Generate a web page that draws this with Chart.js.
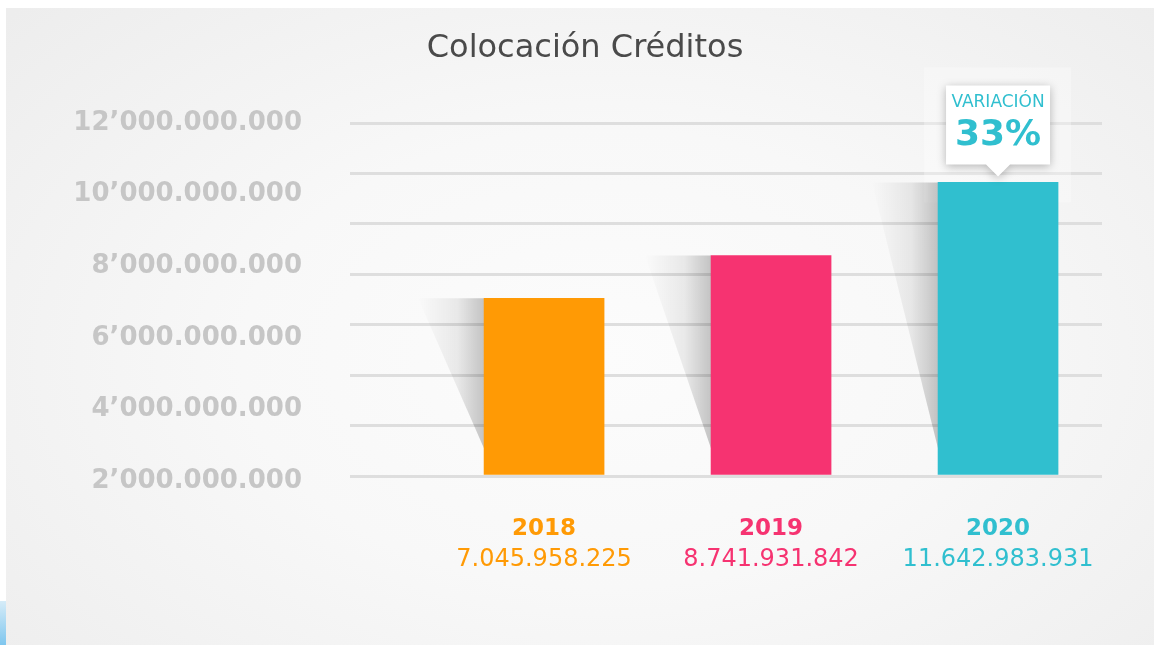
<!DOCTYPE html>
<html>
<head>
<meta charset="utf-8">
<script src="https://cdn.jsdelivr.net/npm/chart.js@4.4.1/dist/chart.umd.min.js"></script>
<style>
  html, body { margin: 0; padding: 0; background: #fff; }
  body { width: 1154px; height: 645px; position: relative; overflow: hidden; font-family: "DejaVu Sans", sans-serif; }
  .panel {
    position: absolute; left: 6px; top: 8px; right: 0; bottom: 0;
    background: radial-gradient(ellipse 70% 80% at 52% 55%, #fcfcfc 0%, #f8f8f8 45%, #ededed 100%);
  }
  .esquina { position: absolute; left: 0; top: 601px; width: 6px; height: 44px; background: linear-gradient(#d6ecf8, #7fc6ee); }
  .titulo {
    position: absolute; top: 27px; left: 585px; transform: translateX(-50%);
    font-size: 32px; line-height: 38px; color: #4a4a4a; white-space: nowrap;
  }
  canvas { position: absolute; left: 0; top: 0; }
</style>
</head>
<body>
<div class="panel"></div>
<div class="esquina"></div>
<canvas id="grafico" width="1154" height="645"></canvas>
<div class="titulo">Colocación Créditos</div>
<script>
const years = ['2018', '2019', '2020'];
const colocacion = [7045958225, 8741931842, 11642983931];
const barColors = ['#ff9a05', '#f63371', '#30bfcf'];
const yTicks = [2e9, 4e9, 6e9, 8e9, 10e9, 12e9];
const gridTicks = [0, 2e9, 4e9, 6e9, 8e9, 10e9, 12e9, 14e9];

const puntos = (n) => String(n).replace(/\B(?=(\d{3})+(?!\d))/g, '.');
const ejeY = (n) => puntos(n).replace('.', '’');

// sombra lateral de cada barra
const sombras = {
  id: 'sombras',
  beforeDatasetsDraw(chart) {
    const ctx = chart.ctx;
    const bars = chart.getDatasetMeta(0).data;
    const ult = bars[bars.length - 1];
    ctx.save();
    ctx.fillStyle = 'rgba(255,255,255,0.3)';
    ctx.fillRect(ult.x - 74, ult.y - 115, 147, 135);
    bars.forEach((bar) => {
      const left = bar.x - bar.width / 2;
      const g = ctx.createLinearGradient(left - 66, 0, left, 0);
      g.addColorStop(0, 'rgba(0,0,0,0)');
      g.addColorStop(0.6, 'rgba(0,0,0,0.07)');
      g.addColorStop(1, 'rgba(0,0,0,0.22)');
      ctx.fillStyle = g;
      ctx.beginPath();
      ctx.moveTo(left - 66, bar.y);
      ctx.lineTo(left, bar.y);
      ctx.lineTo(left, bar.base - 26);
      ctx.closePath();
      ctx.fill();
    });
    ctx.restore();
  }
};

// globo de variación sobre la última barra
const variacion = {
  id: 'variacion',
  afterDatasetsDraw(chart) {
    const ctx = chart.ctx;
    const bars = chart.getDatasetMeta(0).data;
    const bar = bars[bars.length - 1];
    const n = colocacion.length;
    const pct = Math.round((colocacion[n - 1] / colocacion[n - 2] - 1) * 100);
    const cx = bar.x, top = bar.y - 97, bottom = bar.y - 18;
    ctx.save();
    ctx.shadowColor = 'rgba(0,0,0,0.28)';
    ctx.shadowBlur = 10;
    ctx.shadowOffsetY = 2;
    ctx.fillStyle = '#fff';
    ctx.beginPath();
    ctx.moveTo(cx - 52, top);
    ctx.lineTo(cx + 52, top);
    ctx.lineTo(cx + 52, bottom);
    ctx.lineTo(cx + 12, bottom);
    ctx.lineTo(cx, bottom + 12);
    ctx.lineTo(cx - 12, bottom);
    ctx.lineTo(cx - 52, bottom);
    ctx.closePath();
    ctx.fill();
    ctx.shadowColor = 'transparent';
    ctx.fillStyle = barColors[n - 1];
    ctx.textAlign = 'center';
    ctx.textBaseline = 'middle';
    ctx.font = '17px "DejaVu Sans"';
    ctx.fillText('VARIACIÓN', cx, bar.y - 80);
    ctx.font = 'bold 36px "DejaVu Sans"';
    ctx.fillText(pct + '%', cx, bar.y - 47);
    ctx.restore();
  }
};

new Chart(document.getElementById('grafico'), {
  type: 'bar',
  data: {
    datasets: [{
      data: years.map((y, i) => ({ x: i, y: colocacion[i] })),
      backgroundColor: barColors,
      barThickness: 120,
      xAxisID: 'x',
      yAxisID: 'y'
    }]
  },
  options: {
    responsive: false,
    animation: false,
    layout: { padding: { top: 123, right: 52, bottom: 70, left: 0 } },
    plugins: {
      legend: { display: false },
      tooltip: { enabled: false }
    },
    scales: {
      x: {
        type: 'linear',
        position: 'bottom',
        offset: false,
        min: -0.855,
        max: 2.458,
        grid: { display: false, drawTicks: false, offset: false },
        border: { display: false },
        afterBuildTicks: (s) => { s.ticks = years.map((_, i) => ({ value: i })); },
        afterFit: (s) => { s.height = 65; },
        ticks: {
          padding: 39,
          autoSkip: false,
          maxRotation: 0,
          callback: (v, i) => years[i],
          color: (c) => barColors[c.index],
          font: { family: 'DejaVu Sans', size: 23, weight: 'bold' }
        }
      },
      x2: {
        type: 'linear',
        position: 'bottom',
        offset: false,
        min: -0.855,
        max: 2.458,
        grid: { display: false, drawTicks: false, offset: false },
        border: { display: false },
        afterBuildTicks: (s) => { s.ticks = years.map((_, i) => ({ value: i })); },
        afterFit: (s) => { s.height = 34; },
        ticks: {
          padding: 4,
          autoSkip: false,
          maxRotation: 0,
          callback: (v, i) => puntos(colocacion[i]),
          color: (c) => barColors[c.index],
          font: { family: 'DejaVu Sans', size: 24 }
        }
      },
      y: {
        type: 'linear',
        position: 'left',
        min: 0,
        max: 14e9,
        afterBuildTicks: (s) => { s.ticks = gridTicks.map((v) => ({ value: v })); },
        ticks: { display: false },
        grid: { color: '#dedede', lineWidth: 3, drawTicks: false },
        border: { display: false }
      },
      yl: {
        type: 'linear',
        position: 'left',
        min: 2.14e9,
        max: 12e9,
        grid: { display: false, drawTicks: false },
        border: { display: false },
        afterBuildTicks: (s) => { s.ticks = yTicks.map((v) => ({ value: v })); },
        afterFit: (s) => { s.width = 350; },
        ticks: {
          padding: 48,
          color: '#c6c6c6',
          callback: (v) => ejeY(v),
          font: { family: 'DejaVu Sans', size: 26, weight: 'bold' }
        }
      }
    }
  },
  plugins: [sombras, variacion]
});
</script>
</body>
</html>
